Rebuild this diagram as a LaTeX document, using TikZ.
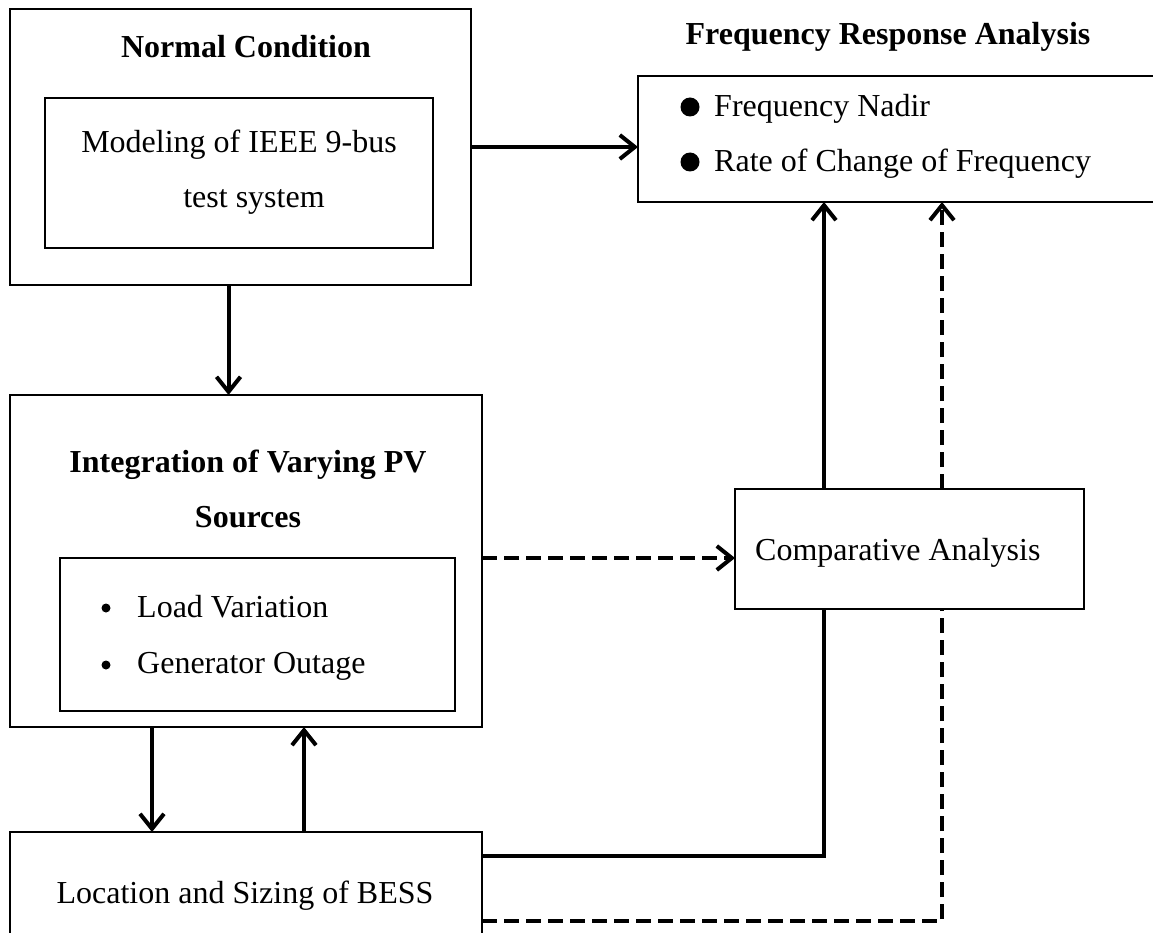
\documentclass[tikz,border=0pt]{standalone}
\usepackage{fontspec}
\setmainfont{Liberation Serif}
\usetikzlibrary{arrows.meta}
\begin{document}
\begin{tikzpicture}[x=1pt,y=-1pt,
  box/.style={draw, line width=1.6pt, inner sep=0pt, outer sep=0pt, anchor=north west},
  txt/.style={anchor=base, inner sep=0pt, font=\fontsize{32}{40}\selectfont},
  ltxt/.style={anchor=base west, inner sep=0pt, font=\fontsize{32}{40}\selectfont},
  conn/.style={line width=4pt},
  arr/.style={conn, -{Straight Barb[length=15pt,width=24pt,line width=4pt]}},
  dsh/.style={dash pattern=on 15pt off 7pt}]
\useasboundingbox (0,0) rectangle (1153,933);
% boxes
\node[box, line width=2.8pt, minimum width=461pt, minimum height=276pt] (nc) at (10,9) {};
\node[box, minimum width=388pt, minimum height=150pt] (mod) at (45,98) {};
\node[box, minimum width=520pt, minimum height=126pt] (fra) at (638,76) {};
\node[box, minimum width=472pt, minimum height=332pt] (int) at (10,395) {};
\node[box, minimum width=395pt, minimum height=153pt] (cases) at (60,558) {};
\node[box, minimum width=349pt, minimum height=120pt] (ca) at (735,489) {};
\node[box, minimum width=472pt, minimum height=113pt] (bess) at (10,832) {};
% texts
\node[txt] (nct) at (246,58) {\textbf{Normal Condition}};
\node[txt] (mod1) at (239,153) {Modeling of IEEE 9-bus};
\node[txt] (mod2) at (254,208) {test system};
\node[txt] (frat) at (888,45) {\textbf{Frequency Response Analysis}};
\fill (690,107) circle (9.5pt);
\node[ltxt] (fra1) at (714,117) {Frequency Nadir};
\fill (690,162) circle (9.5pt);
\node[ltxt] (fra2) at (714,172) {Rate of Change of Frequency};
\node[txt] (intt1) at (248,472) {\textbf{Integration of Varying PV}};
\node[txt] (intt2) at (248,527) {\textbf{Sources}};
\fill (106,608) circle (4.5pt);
\node[ltxt] (c1) at (137,617) {Load Variation};
\fill (106,665) circle (4.5pt);
\node[ltxt] (c2) at (137,673) {Generator Outage};
\node[ltxt] (cat) at (755,560) {Comparative Analysis};
\node[txt] (besst) at (245,903) {Location and Sizing of BESS};
% connectors
\draw[arr] (nc.east) -- (nc.east -| fra.west);
\draw[arr] ([xshift=-12pt]nc.south) -- ([xshift=-12pt]nc.south |- int.north);
\draw[arr] ([xshift=-94pt]int.south) -- ([xshift=-94pt]int.south |- bess.north);
\draw[arr] ([xshift=58pt]bess.north) -- ([xshift=58pt]bess.north |- int.south);
\draw[arr, dsh] ([yshift=3pt]int.east) -- ([yshift=3pt]int.east -| ca.west);
\draw[arr] ([xshift=-85.5pt]ca.north) -- ([xshift=-85.5pt]ca.north |- fra.south);
\draw[arr, dsh] ([xshift=32.5pt]ca.north) -- ([xshift=32.5pt]ca.north |- fra.south);
\draw[conn] ([yshift=33pt]bess.east) -| ([xshift=-85.5pt]ca.south);
\draw[conn, dsh] ([yshift=-32.5pt]bess.east) -| ([xshift=32.5pt]ca.south);
\end{tikzpicture}
\end{document}
